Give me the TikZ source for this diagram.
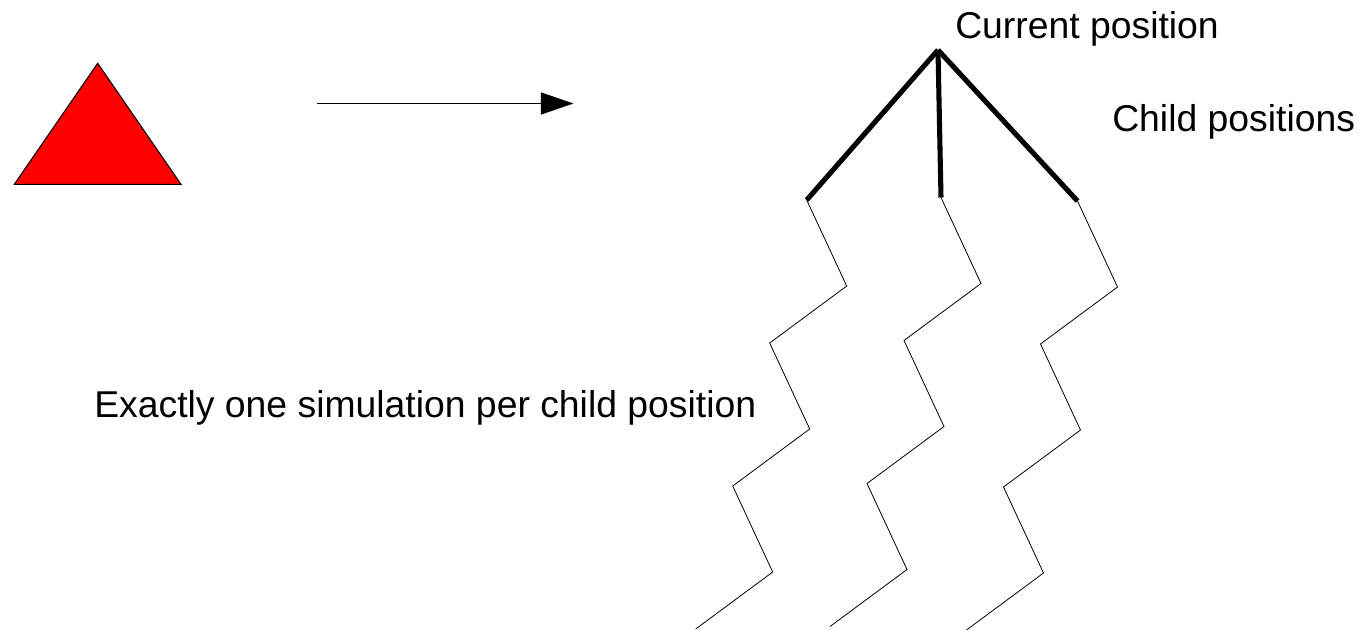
\documentclass[tikz,border=0pt]{standalone}
\usepackage{fontspec}
\setmainfont{Liberation Sans}
\usepackage{tikz}
\usetikzlibrary{arrows.meta, calc, positioning}

\begin{document}
\begin{tikzpicture}
        [x=0.75pt, y=-0.75pt,
         labelsty/.style={inner sep=0pt,
                          anchor=base west,
                          font=\fontsize{28}{33}\selectfont},
         piecesty/.style={draw=black,
                          fill=red,
                          line width=0.8pt,
                          line join=miter},
         branchsty/.style={line width=3.8pt},
         walksty/.style={line width=0.6pt},
         post/.style={->, >={Triangle[length=24.5pt, width=16.5pt]}, line width=1pt}]

        \useasboundingbox (0,0) rectangle (1361,629);

        % the piece that moves
        \coordinate (piece top) at (97.7,63.3);
        \coordinate (piece left) at (14.3,184.3);
        \coordinate (piece right) at (181,184.3);
        \filldraw[piecesty] (piece top) -- (piece right) -- (piece left) -- cycle;

        \coordinate (move start) at (317,103.5);
        \coordinate (move end) at (573.5,103.5);
        \draw[post] (move start) -- (move end);

        % one move down to every child
        \coordinate (current) at (938,50);
        \coordinate (child 1) at (806.7,200);
        \coordinate (child 2) at (941,197.5);
        \coordinate (child 3) at (1077.5,201);

        \path (current) edge [branchsty] (child 1)
                        edge [branchsty] (child 2)
                        edge [branchsty] (child 3);

        % one random playout below each child
        \foreach \c in {1,2,3}
                \draw[walksty] (child \c) -- ++(40,86) -- ++(-77,57)
                                          -- ++(40,86) -- ++(-77,57)
                                          -- ++(40,86) -- ++(-77,57);

        \node[labelsty] (current label) at (955,38) {Current position};
        \node[labelsty] (child label) at (1112,131) {Child positions};
        \node[labelsty] (sim label) at (94,417) {Exactly one simulation per child position};
\end{tikzpicture}
\end{document}
